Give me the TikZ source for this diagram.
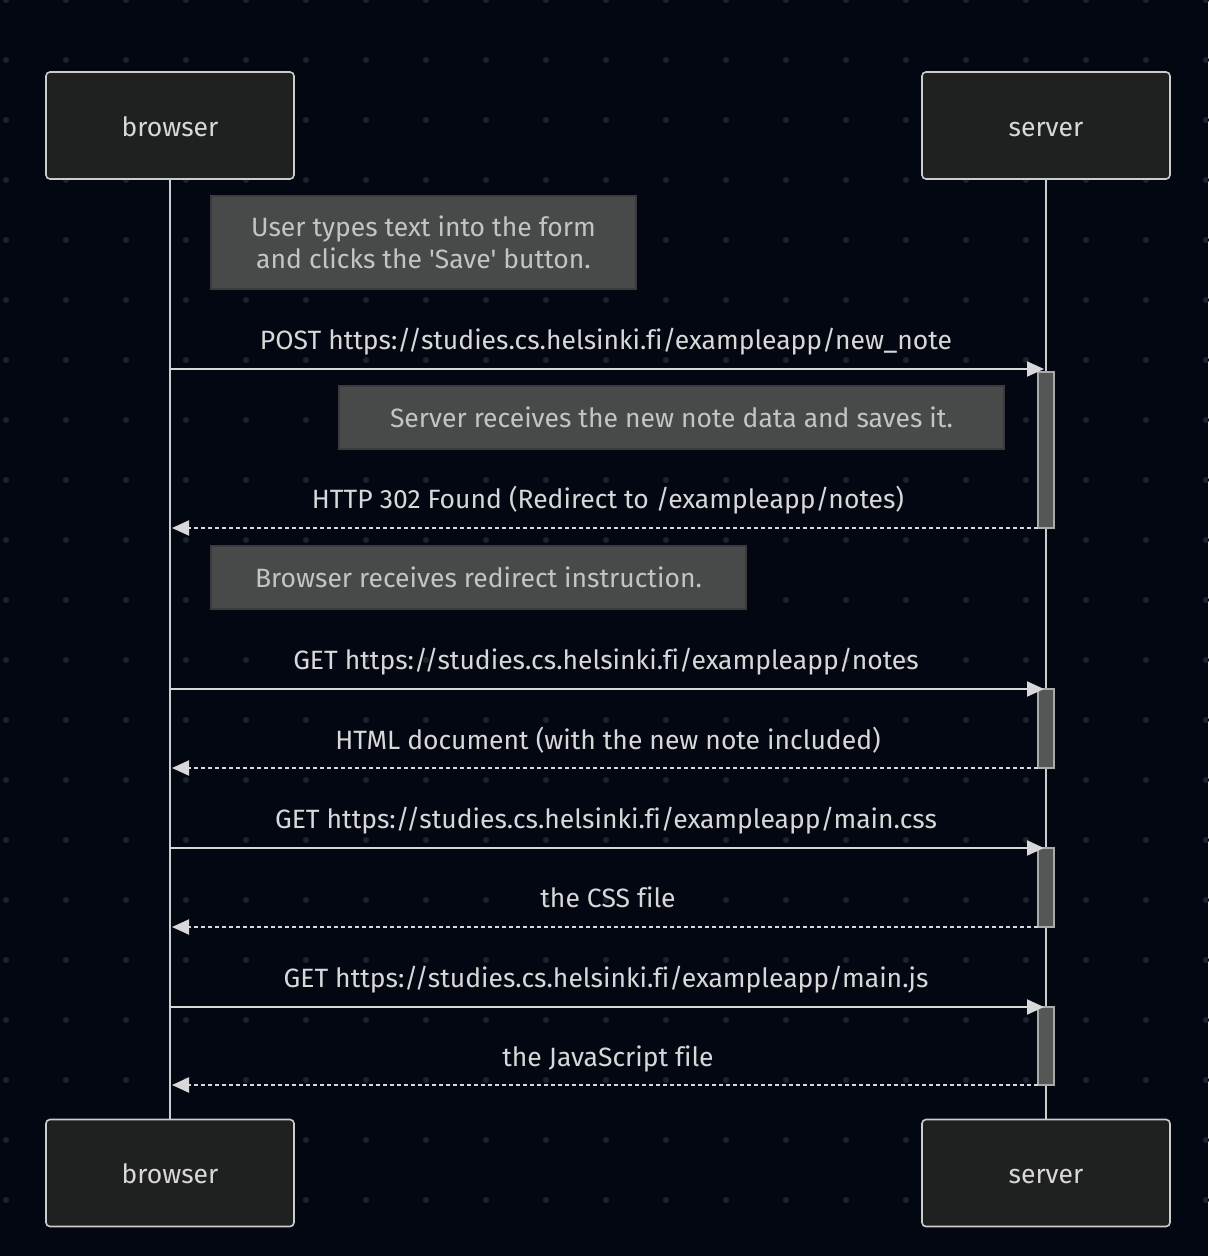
\documentclass[tikz,border=0pt]{standalone}
\usepackage{fontspec}
\setmainfont{Fira Sans}[Ligatures={NoCommon}]
\usetikzlibrary{arrows.meta}
\definecolor{bgc}{HTML}{030712}
\definecolor{dotc}{HTML}{1E222C}
\definecolor{actorfill}{HTML}{1F2020}
\definecolor{actorline}{HTML}{CCCCCC}
\definecolor{notefill}{HTML}{484A4A}
\definecolor{noteline}{HTML}{3A3B3B}
\definecolor{notetext}{HTML}{C4C4C4}
\definecolor{msgc}{HTML}{D8D8D8}
\definecolor{actfill}{HTML}{555757}
\definecolor{actline}{HTML}{AAAAAA}
\tikzset{
  actor/.style={draw=actorline, line width=1.6pt, fill=actorfill, rounded corners=4pt,
    minimum width=248pt, minimum height=107pt, text=msgc, font=\fontsize{26.5}{30}\selectfont,
    text height=26pt, text depth=5pt},
  notebox/.style={draw=noteline, line width=1.5pt, fill=notefill, text=notetext,
    font=\fontsize{26.5}{32}\selectfont, align=center, inner sep=0pt},
  lifeline/.style={draw=actorline, line width=2pt},
  callmsg/.style={draw=msgc, line width=2pt, -{Triangle[length=17pt,width=15pt]}},
  replymsg/.style={draw=msgc, line width=2pt, dash pattern=on 4pt off 3pt, -{Triangle[length=17pt,width=15pt]}},
  msglabel/.style={text=msgc, font=\fontsize{26.5}{30}\selectfont, inner sep=0pt,
    text height=19pt, text depth=5pt},
  activation/.style={draw=actline, line width=1.5pt, fill=actfill, minimum width=16pt, inner sep=0pt},
}
\begin{document}
\begin{tikzpicture}[x=1pt, y=-1pt]
% background and dotted grid
\fill[bgc] (0,0) rectangle (1208,1256);
\useasboundingbox (0,0) rectangle (1208,1256);
\foreach \i in {0,...,20} {
  \foreach \j in {0,...,21} {
    \fill[dotc] (6+60*\i, 60*\j) circle (3pt);
  }
}
% participants
\node[actor] (bt) at (170,125.5) {browser};
\node[actor] (st) at (1046,125.5) {server};
\node[actor] (bb) at (170,1173) {browser};
\node[actor] (sb) at (1046,1173) {server};
% lifelines
\draw[lifeline] (bt.south) -- (bb.north);
\draw[lifeline] (st.south) -- (sb.north);
% activation bars on the server lifeline
\node[activation, minimum height=156pt] (a1) at (1046,450) {};
\node[activation, minimum height=79pt] (a2) at (1046,728.5) {};
\node[activation, minimum height=79pt] (a3) at (1046,887.5) {};
\node[activation, minimum height=78pt] (a4) at (1046,1046) {};
% notes
\node[notebox, minimum width=425pt, minimum height=93pt] (n1) at (423.5,242.5)
  {\raisebox{-1pt}{User types text into the form}\\\raisebox{-1pt}{and clicks the \textquotesingle Save\textquotesingle\ button.}};
\node[notebox, minimum width=665pt, minimum height=63pt] (n2) at (671.5,417.5)
  {Server receives the new note data and saves it.};
\node[notebox, minimum width=535pt, minimum height=63pt] (n3) at (478.5,577.5)
  {Browser receives redirect instruction.};
% message end points
\coordinate (p1b) at (170,369);  \coordinate (p1s) at (1044,369);
\coordinate (p2s) at (1038,528); \coordinate (p2b) at (172,528);
\coordinate (p3b) at (170,689);  \coordinate (p3s) at (1044,689);
\coordinate (p4s) at (1038,768); \coordinate (p4b) at (172,768);
\coordinate (p5b) at (170,848);  \coordinate (p5s) at (1044,848);
\coordinate (p6s) at (1038,927); \coordinate (p6b) at (172,927);
\coordinate (p7b) at (170,1007); \coordinate (p7s) at (1044,1007);
\coordinate (p8s) at (1038,1085); \coordinate (p8b) at (172,1085);
% messages
\draw[callmsg] (p1b) -- (p1s);
\node[msglabel] (l1) at (606,342) {POST https://studies.cs.helsinki.fi/exampleapp/new\_note};
\draw[replymsg] (p2s) -- (p2b);
\node[msglabel] (l2) at (608,501) {HTTP 302 Found (Redirect to /exampleapp/notes)};
\draw[callmsg] (p3b) -- (p3s);
\node[msglabel] (l3) at (606,662) {GET https://studies.cs.helsinki.fi/exampleapp/notes};
\draw[replymsg] (p4s) -- (p4b);
\node[msglabel] (l4) at (608,742) {HTML document (with the new note included)};
\draw[callmsg] (p5b) -- (p5s);
\node[msglabel] (l5) at (606,821) {GET https://studies.cs.helsinki.fi/exampleapp/main.css};
\draw[replymsg] (p6s) -- (p6b);
\node[msglabel] (l6) at (608,900) {the CSS file};
\draw[callmsg] (p7b) -- (p7s);
\node[msglabel] (l7) at (606,980) {GET https://studies.cs.helsinki.fi/exampleapp/main.js};
\draw[replymsg] (p8s) -- (p8b);
\node[msglabel] (l8) at (608,1059) {the JavaScript file};
\end{tikzpicture}
\end{document}
